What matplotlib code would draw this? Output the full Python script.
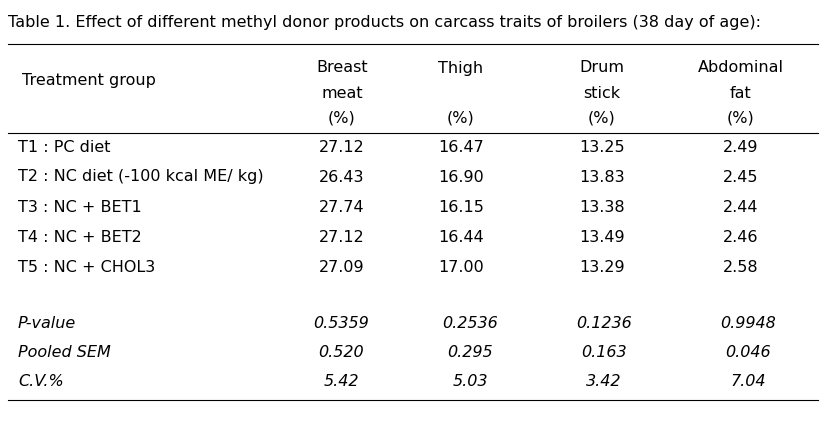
import matplotlib
matplotlib.use("Agg")
import matplotlib.pyplot as plt

title = "Table 1. Effect of different methyl donor products on carcass traits of broilers (38 day of age):"
headers = [["Breast", "meat", "(%)"], ["Thigh", "", "(%)"], ["Drum", "stick", "(%)"], ["Abdominal", "fat", "(%)"]]
groups = ["T1 : PC diet", "T2 : NC diet (-100 kcal ME/ kg)", "T3 : NC + BET1", "T4 : NC + BET2", "T5 : NC + CHOL3"]
breast = ["27.12", "26.43", "27.74", "27.12", "27.09"]
thigh = ["16.47", "16.90", "16.15", "16.44", "17.00"]
drum = ["13.25", "13.83", "13.38", "13.49", "13.29"]
abdominal = ["2.49", "2.45", "2.44", "2.46", "2.58"]
stat_names = ["P-value", "Pooled SEM", "C.V.%"]
stats = [["0.5359", "0.2536", "0.1236", "0.9948"],
         ["0.520", "0.295", "0.163", "0.046"],
         ["5.42", "5.03", "3.42", "7.04"]]

W, H = 837, 437
fig = plt.figure(figsize=(W/100, H/100), dpi=100)
ax = fig.add_axes([0, 0, 1, 1])
ax.set_xlim(0, W); ax.set_ylim(H, 0); ax.axis("off")
fs = 11.5
ax.text(8, 22, title, fontsize=fs, va="center", ha="left")
for y in (44, 133, 400):
    ax.plot([8, 818], [y, y], color="black", lw=0.8)
ax.text(22, 80, "Treatment group", fontsize=fs, va="center")
colx = [342, 461, 602, 741]
for x, h in zip(colx, headers):
    for yy, t in zip((68, 93, 118), h):
        ax.text(x, yy, t, fontsize=fs, va="center", ha="center")
cols = [breast, thigh, drum, abdominal]
for i, g in enumerate(groups):
    y = 147 + 30 * i
    ax.text(18, y, g, fontsize=fs, va="center")
    for x, c in zip(colx, cols):
        ax.text(x, y, c[i], fontsize=fs, va="center", ha="center")
statx = [341, 470, 604, 748]
for i, (n, row) in enumerate(zip(stat_names, stats)):
    y = 324 + 28.5 * i
    ax.text(18, y, n, fontsize=fs, va="center", style="italic")
    for x, v in zip(statx, row):
        ax.text(x, y, v, fontsize=fs, va="center", ha="center", style="italic")
fig.savefig("out.png", dpi=100, facecolor="white")
